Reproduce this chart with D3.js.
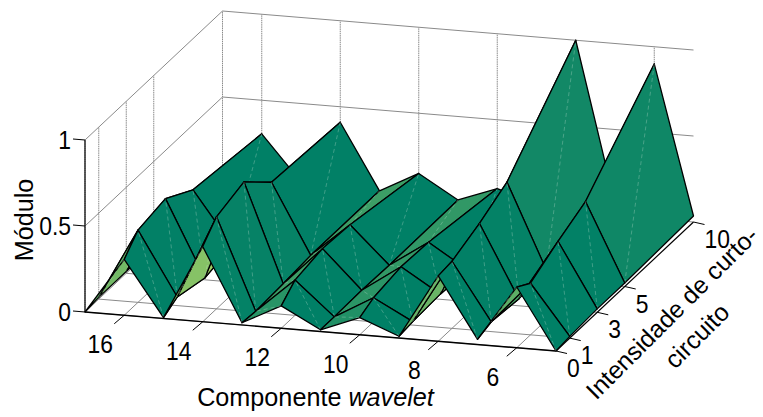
<!DOCTYPE html>
<html>
<head>
<meta charset="utf-8">
<script src="https://d3js.org/d3.v7.min.js"></script>
<style>
html, body { margin: 0; padding: 0; background: #fff; }
text { font-family: "Liberation Sans", Arial, sans-serif; fill: #000; }
</style>
</head>
<body>
<div id="grafico"></div>
<script>
const componentes = [17, 16, 15, 14, 13, 12, 11, 10, 9, 8, 7, 6, 5];
const intensidades = [0, 1, 3, 5, 10];
const ticksComponente = [16, 14, 12, 10, 8, 6];
const ticksIntensidade = [0, 1, 3, 5, 10];
const ticksModulo = [0, 0.5, 1];

const moduloI0 = [0, 0.325, 0.005, 0.437, 0.013, 0.13, 0.01, 0.1, 0.01, 0.38, 0.03, 0.353, 0];
const moduloI1 = [0.01, 0.42, 0.05, 0.535, 0.005, 0.205, 0.01, 0.14, 0.02, 0.39, 0.057, 0.3, 0.01];
const moduloI3 = [0.01, 0.453, 0.01, 0.588, 0.015, 0.238, 0.015, 0.17, 0.03, 0.46, 0.04, 0.394, 0.02];
const moduloI5 = [0.01, 0.354, 0.05, 0.436, 0.03, 0.227, 0.01, 0.163, 0.02, 0.55, 0.06, 0.475, 0.02];
const moduloI10 = [0.01, 0.305, 0.044, 0.41, 0.03, 0.15, 0.015, 0.1, 0.03, 1, 0.07, 0.9, 0.035];
const modulo = [moduloI0, moduloI1, moduloI3, moduloI5, moduloI10];

const svg = d3.select("#grafico").append("svg").attr("width", 763).attr("height", 417);

// projecao: cada eixo 3D vira um vetor na tela
const origem = [85, 312];
const xComp = d3.scaleLinear().domain([17, 5]).range([0, 471]);
const yComp = d3.scaleLinear().domain([17, 5]).range([0, 39]);
const xInt = d3.scaleLinear().domain([0, 10]).range([0, 137.5]);
const yInt = d3.scaleLinear().domain([0, 10]).range([0, -129]);
const yMod = d3.scaleLinear().domain([0, 1]).range([0, -172]);

function projeta(c, i, z) {
    return [origem[0] + xComp(c) + xInt(i), origem[1] + yComp(c) + yInt(i) + yMod(z)];
}

function linha(a, b, cor, largura) {
    return svg.append("line")
        .attr("x1", a[0]).attr("y1", a[1])
        .attr("x2", b[0]).attr("y2", b[1])
        .attr("stroke", cor)
        .attr("stroke-width", largura);
}

// numeros dos ticks: a fonte original e mais estreita
function rotulo(x, y, ancora, valor) {
    svg.append("text")
        .attr("transform", "translate(" + x + "," + y + ") scale(0.88,1)")
        .attr("text-anchor", ancora)
        .attr("font-size", 26)
        .text(valor);
}

// grades das paredes e do chao
const corGrade = "#8a8a8a";
ticksModulo.slice(1).forEach(function (z) {
    linha(projeta(17, 0, z), projeta(17, 10, z), corGrade, 1);
    linha(projeta(17, 10, z), projeta(5, 10, z), corGrade, 1);
});
ticksIntensidade.forEach(function (i) {
    linha(projeta(17, i, 0), projeta(17, i, 1), corGrade, 1).attr("stroke-dasharray", "1.5 0.7");
    linha(projeta(17, i, 0), projeta(5, i, 0), corGrade, 1);
});
ticksComponente.forEach(function (c) {
    linha(projeta(c, 10, 0), projeta(c, 10, 1), corGrade, 1).attr("stroke-dasharray", "1.5 0.7");
    linha(projeta(c, 0, 0), projeta(c, 10, 0), corGrade, 1);
});
linha(projeta(17, 0, 0), projeta(17, 10, 0), corGrade, 1);

// eixos
linha(projeta(17, 0, 0), projeta(5, 0, 0), "#000", 1.4);
linha(projeta(5, 0, 0), projeta(5, 10, 0), "#000", 1.2);
linha(projeta(17, 0, 0), projeta(17, 0, 1), "#000", 1.2);

// cor da face: mapa "summer", sobe com a inclinacao da aresta da frente
function corFace(z0, z1, zMax) {
    const sobe = z1 - z0;
    const t = sobe > 0.02 ? 0.04 + sobe : 0.07 * Math.max(0, zMax - 0.4) / 0.6;
    return d3.rgb(t * 255, (0.5 + t / 2) * 255, 102).formatHex();
}

// pintor: de tras para a frente
for (var k = intensidades.length - 2; k >= 0; k--) {
    for (var n = 0; n < componentes.length - 1; n++) {
        const i0 = intensidades[k], i1 = intensidades[k + 1];
        const c0 = componentes[n], c1 = componentes[n + 1];
        const z00 = modulo[k][n], z01 = modulo[k][n + 1];
        const z11 = modulo[k + 1][n + 1], z10 = modulo[k + 1][n];
        const pts = [projeta(c0, i0, z00), projeta(c1, i0, z01), projeta(c1, i1, z11), projeta(c0, i1, z10)];
        const cor = corFace(z00, z01, Math.max(z00, z01, z11, z10));
        svg.append("polygon")
            .attr("points", pts.map(function (p) { return p.join(","); }).join(" "))
            .attr("fill", cor)
            .attr("stroke", "#000")
            .attr("stroke-width", 1.3)
            .attr("stroke-linejoin", "round");
        // emenda clara dos triangulos
        linha(pts[1], pts[3], "#cfe6d8", 0.6)
            .attr("stroke-dasharray", "4 3")
            .attr("opacity", 0.5);
    }
}

// marcas dos eixos
ticksModulo.forEach(function (z) {
    const p = projeta(17, 0, z);
    linha(p, [p[0] - 12, p[1] - 1], "#000", 1);
    rotulo(p[0] - 14, p[1] + 9, "end", z);
});
ticksComponente.forEach(function (c) {
    const p = projeta(c, 0, 0);
    linha(p, [p[0] - 10, p[1] + 8.5], "#000", 1);
    rotulo(p[0] - 24, p[1] + 38, "middle", c);
});
ticksIntensidade.forEach(function (i) {
    const p = projeta(5, i, 0);
    linha(p, [p[0] + 11, p[1] + 2.5], "#000", 1);
    rotulo(p[0] + 11, p[1] + 26, "start", i);
});

// titulos
svg.append("text")
    .attr("transform", "translate(33,220) rotate(-90)")
    .attr("text-anchor", "middle")
    .attr("font-size", 25.2)
    .text("Módulo");

const rotX = svg.append("text")
    .attr("x", 315.5).attr("y", 406)
    .attr("text-anchor", "middle")
    .attr("font-size", 25.2);
rotX.append("tspan").text("Componente ");
rotX.append("tspan").attr("font-style", "italic").text("wavelet");

svg.append("text")
    .attr("transform", "translate(678,319) rotate(-45)")
    .attr("text-anchor", "middle")
    .attr("font-size", 24.6)
    .text("Intensidade de curto-");
svg.append("text")
    .attr("transform", "translate(703,342) rotate(-45)")
    .attr("text-anchor", "middle")
    .attr("font-size", 25)
    .text("circuito");
</script>
</body>
</html>
